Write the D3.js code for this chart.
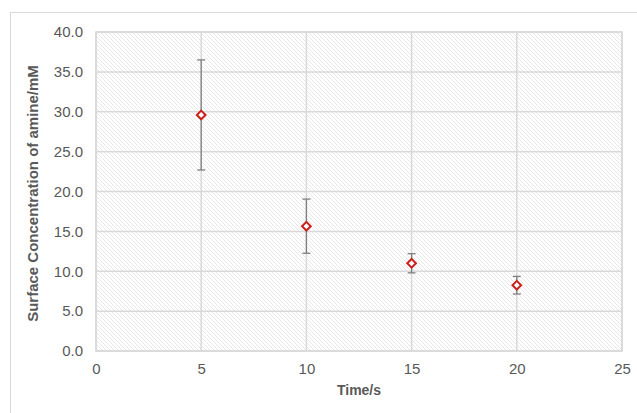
<!DOCTYPE html>
<html>
<head>
<meta charset="utf-8">
<script src="https://cdn.jsdelivr.net/npm/d3@7"></script>
<style>
  body { margin: 0; background: #fff; }
  text { font-family: "Liberation Sans", Arial, sans-serif; }
</style>
</head>
<body>
<div id="chart"></div>
<script>
var times = [5, 10, 15, 20];
var conc = [29.6, 15.65, 11.0, 8.25];
var errs = [6.9, 3.4, 1.2, 1.1];
var xTicks = [0, 5, 10, 15, 20, 25];
var yTicks = [0, 5, 10, 15, 20, 25, 30, 35, 40];

var W = 637, H = 413;
var margin = { left: 96, top: 32, right: 15, bottom: 62 };

var svg = d3.select("#chart").append("svg").attr("width", W).attr("height", H);

// hatch pattern
var defs = svg.append("defs");
var pat = defs.append("pattern").attr("id", "hatch")
  .attr("patternUnits", "userSpaceOnUse").attr("width", 4).attr("height", 4);
pat.append("rect").attr("width", 4).attr("height", 4).attr("fill", "#fff");
pat.append("path").attr("d", "M-1,-1 L5,5 M-1,3 L1,5 M3,-1 L5,1")
  .attr("stroke", "#e2e2e2").attr("stroke-width", 0.8);

// outer chart border
svg.append("rect").attr("x", 10.5).attr("y", 12.5).attr("width", 640).attr("height", 420)
  .attr("fill", "none").attr("stroke", "#d9d9d9").attr("stroke-width", 1);

var x = d3.scaleLinear().domain([0, 25]).range([margin.left, W - margin.right]);
var y = d3.scaleLinear().domain([0, 40]).range([H - margin.bottom, margin.top]);

svg.append("rect").attr("x", x(0)).attr("y", y(40))
  .attr("width", x(25) - x(0)).attr("height", y(0) - y(40))
  .attr("fill", "url(#hatch)").attr("stroke", "#d9d9d9").attr("stroke-width", 1.5);

// gridlines
svg.append("g").selectAll("line").data(yTicks).enter().append("line")
  .attr("x1", x(0)).attr("x2", x(25)).attr("y1", y).attr("y2", y)
  .attr("stroke", "#d9d9d9").attr("stroke-width", 1.5);
svg.append("g").selectAll("line").data(xTicks).enter().append("line")
  .attr("y1", y(0)).attr("y2", y(40)).attr("x1", x).attr("x2", x)
  .attr("stroke", "#d9d9d9").attr("stroke-width", 1.5);

// axes
var yAxis = svg.append("g").attr("transform", "translate(" + (x(0) - 13) + ",0)")
  .call(d3.axisLeft(y).tickValues(yTicks).tickSize(0).tickFormat(d3.format(".1f")));
var xAxis = svg.append("g").attr("transform", "translate(0," + y(0) + ")")
  .call(d3.axisBottom(x).tickValues(xTicks).tickSize(0));
[xAxis, yAxis].forEach(function(a) {
  a.select(".domain").remove();
  a.selectAll("text").attr("fill", "#595959").style("font-size", "15px");
});
xAxis.selectAll("text").attr("y", 23).attr("dy", 0);
yAxis.selectAll("text").attr("x", 0);

svg.append("text").attr("x", (x(0) + x(25)) / 2).attr("y", 395)
  .attr("text-anchor", "middle").attr("fill", "#595959")
  .style("font-size", "14px").style("font-weight", "bold").text("Time/s");
svg.append("text").attr("transform", "translate(38," + ((y(0) + y(40)) / 2 + 2) + ") rotate(-90)")
  .attr("text-anchor", "middle").attr("fill", "#595959")
  .style("font-size", "15px").style("font-weight", "bold").text("Surface Concentration of amine/mM");

// error bars
var pts = times.map(function(t, i) { return { t: t, c: conc[i], e: errs[i] }; });
var eb = svg.append("g").selectAll("g").data(pts).enter().append("g")
  .attr("stroke", "#7f7f7f").attr("stroke-width", 1.3);
eb.append("line").attr("x1", function(d) { return x(d.t); }).attr("x2", function(d) { return x(d.t); })
  .attr("y1", function(d) { return y(d.c - d.e); }).attr("y2", function(d) { return y(d.c + d.e); });
eb.append("line").attr("x1", function(d) { return x(d.t) - 4; }).attr("x2", function(d) { return x(d.t) + 4; })
  .attr("y1", function(d) { return y(d.c + d.e); }).attr("y2", function(d) { return y(d.c + d.e); });
eb.append("line").attr("x1", function(d) { return x(d.t) - 4; }).attr("x2", function(d) { return x(d.t) + 4; })
  .attr("y1", function(d) { return y(d.c - d.e); }).attr("y2", function(d) { return y(d.c - d.e); });

// markers
svg.append("g").selectAll("path").data(pts).enter().append("path")
  .attr("d", d3.symbol().type(d3.symbolDiamond2).size(48))
  .attr("transform", function(d) { return "translate(" + x(d.t) + "," + y(d.c) + ")"; })
  .attr("fill", "#fff").attr("stroke", "#c9211e").attr("stroke-width", 2);
</script>
</body>
</html>
